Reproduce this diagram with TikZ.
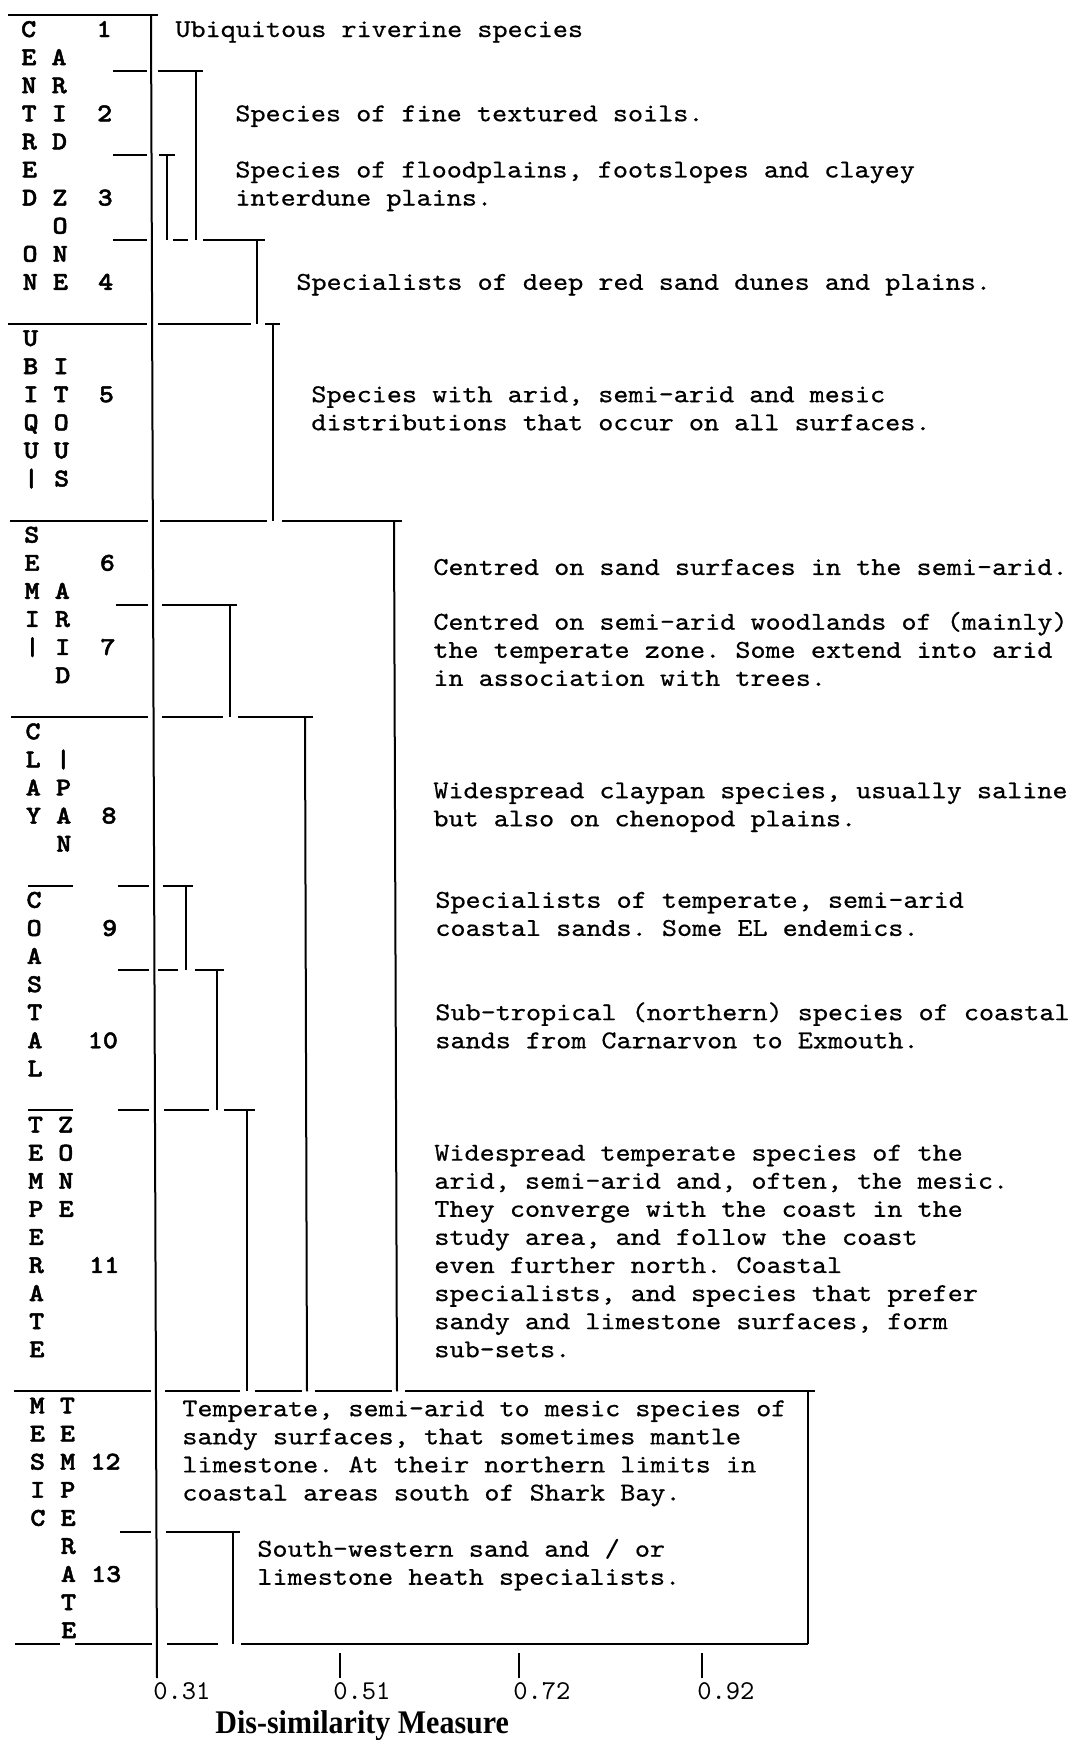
\documentclass[tikz,border=0pt]{standalone}
\usepackage{fontspec}
\usepackage{graphicx}
\newfontfamily\cour[FakeStretch=1.12,FakeBold=0.6]{lmmono10-regular.otf}
\newfontfamily\courb[FakeStretch=1.12,FakeBold=1.8]{lmmonolt10-bold.otf}
\newfontfamily\ticfont{lmmono10-regular.otf}
\newfontfamily\tserif{Liberation Serif}
\newcommand\LY[1]{43+28.09*(#1)}
\newcommand\hs[3]{\draw[ln] (#2,{\LY{#1}}) -- (#3,{\LY{#1}});}
\newcommand\vs[3]{\draw[ln] (#1,{\LY{#2}}) -- (#1,{\LY{#3}});}
\newcommand\rtx[4]{\node[rt] (#1) at (#2,{37+28.09*(#3)}) {#4};}
\newcommand\lab[2]{\node[lt] (lab#1) at ({20.5+0.0062*(31+28.09*(#1))},{37+28.09*(#1)}) {#2};}
\tikzset{
  ln/.style={line width=1pt, black},
  rt/.style={font=\cour\frenchspacing\fontsize{12.84}{14}\selectfont, anchor=base west, inner sep=0pt},
  lt/.style={font=\courb\frenchspacing\fontsize{12.84}{14}\selectfont, anchor=base west, inner sep=0pt},
  tk/.style={font=\ticfont\fontsize{13.6}{14}\selectfont, anchor=base west, inner sep=0pt},
}
\begin{document}
\begin{tikzpicture}[x=0.5pt,y=-0.5pt]
\useasboundingbox (0,0) rectangle (1073,1740);
\fill[white] (0,0) rectangle (1073,1740);
% main vertical
\draw[ln] (151,15) -- (157,1678);
% left separators
\draw[ln] (8,{\LY{-1}}) -- (158,{\LY{-1}});
\hs{1}{113}{147}
\hs{4}{113}{147}
\hs{7}{113}{147}
\hs{10}{8}{147}
\hs{17}{10}{148}
\hs{20}{116}{148}
\hs{24}{11}{148}
\hs{30}{28}{73}
\hs{30}{118}{149}
\hs{33}{118}{149}
\hs{38}{28}{73}
\hs{38}{118}{149}
\hs{48}{14}{151}
\hs{53}{120}{151}
\hs{57}{15}{60}
\hs{57}{75}{152}
% cluster 1-5
\hs{1}{158}{203}
\vs{196}{1}{7}
\hs{4}{159}{175}
\vs{167}{4}{7}
\hs{7}{173}{188}
\hs{7}{203}{265}
\vs{257}{7}{10}
\hs{10}{158}{251}
\hs{10}{265}{280}
\vs{273}{10}{17}
\hs{17}{160}{267}
\hs{17}{282}{402}
\draw[ln] (394,{\LY{17}}) -- (397,{\LY{48}});
% semi-arid
\hs{20}{162}{237}
\vs{230}{20}{24}
\hs{24}{162}{223}
\hs{24}{238}{313}
\draw[ln] (305,{\LY{24}}) -- (307,{\LY{48}});
% clay / coastal / temperate
\hs{30}{163}{193}
\vs{186}{30}{33}
\hs{33}{158}{178}
\hs{33}{195}{224}
\vs{217}{33}{38}
\hs{38}{164}{209}
\hs{38}{224}{255}
\vs{247}{38}{48}
% row 48 line
\hs{48}{165}{240}
\hs{48}{255}{302}
\hs{48}{315}{392}
\hs{48}{405}{815}
% right box
\vs{808}{48}{57}
% mesic
\hs{53}{166}{240}
\vs{233}{53}{57}
\hs{57}{167}{218}
\hs{57}{241}{808}
% axis ticks
\draw[ln] (340,1653) -- (340,1678);
\draw[ln] (519,1653) -- (519,1678);
\draw[ln] (702,1653) -- (702,1678);
\node[tk] (a1) at (153,1699) {0.31};
\node[tk] (a2) at (333,1699) {0.51};
\node[tk] (a3) at (513,1699) {0.72};
\node[tk] (a4) at (697,1699) {0.92};
\node[anchor=base west, inner sep=0pt, font=\tserif\bfseries\fontsize{15}{16}\selectfont] (title) at (215,1733) {\scalebox{1}[1.1]{Dis-similarity Measure}};
% left labels
\lab{0}{C~~~~1}
\lab{1}{E~A}
\lab{2}{N~R}
\lab{3}{T~I~~2}
\lab{4}{R~D}
\lab{5}{E}
\lab{6}{D~Z~~3}
\lab{7}{~~O}
\lab{8}{O~N}
\lab{9}{N~E~~4}
\lab{11}{U}
\lab{12}{B~I}
\lab{13}{I~T~~5}
\lab{14}{Q~O}
\lab{15}{U~U}
\lab{16}{|~S}
\lab{18}{S}
\lab{19}{E~~~~6}
\lab{20}{M~A}
\lab{21}{I~R}
\lab{22}{|~I~~7}
\lab{23}{~~D}
\lab{25}{C}
\lab{26}{L~|}
\lab{27}{A~P}
\lab{28}{Y~A~~8}
\lab{29}{~~N}
\lab{31}{C}
\lab{32}{O~~~~9}
\lab{33}{A}
\lab{34}{S}
\lab{35}{T}
\lab{36}{A~~~10}
\lab{37}{L}
\lab{39}{T~Z}
\lab{40}{E~O}
\lab{41}{M~N}
\lab{42}{P~E}
\lab{43}{E}
\lab{44}{R~~~11}
\lab{45}{A}
\lab{46}{T}
\lab{47}{E}
\lab{49}{M~T}
\lab{50}{E~E}
\lab{51}{S~M~12}
\lab{52}{I~P}
\lab{53}{C~E}
\lab{54}{~~R}
\lab{55}{~~A~13}
\lab{56}{~~T}
\lab{57}{~~E}
% right texts
\rtx{t1}{175}{0}{Ubiquitous riverine species}
\rtx{t2}{235}{3}{Species of fine textured soils.}
\rtx{t3a}{235}{5}{Species of floodplains, footslopes and clayey}
\rtx{t3b}{235}{6}{interdune plains.}
\rtx{t4}{296}{9}{Specialists of deep red sand dunes and plains.}
\rtx{t5a}{311}{13}{Species with arid, semi-arid and mesic}
\rtx{t5b}{311}{14}{distributions that occur on all surfaces.}
\rtx{t6}{433}{19.15}{Centred on sand surfaces in the semi-arid.}
\rtx{t7a}{433}{21.1}{Centred on semi-arid woodlands of (mainly)}
\rtx{t7b}{433}{22.1}{the temperate zone. Some extend into arid}
\rtx{t7c}{433}{23.1}{in association with trees.}
\rtx{t8a}{433}{27.1}{Widespread claypan species, usually saline}
\rtx{t8b}{433}{28.1}{but also on chenopod plains.}
\rtx{t9a}{435}{31}{Specialists of temperate, semi-arid}
\rtx{t9b}{435}{32}{coastal sands. Some EL endemics.}
\rtx{t10a}{435}{35}{Sub-tropical (northern) species of coastal}
\rtx{t10b}{435}{36}{sands from Carnarvon to Exmouth.}
\rtx{t11a}{434}{40}{Widespread temperate species of the}
\rtx{t11b}{434}{41}{arid, semi-arid and, often, the mesic.}
\rtx{t11c}{434}{42}{They converge with the coast in the}
\rtx{t11d}{434}{43}{study area, and follow the coast}
\rtx{t11e}{434}{44}{even further north. Coastal}
\rtx{t11f}{434}{45}{specialists, and species that prefer}
\rtx{t11g}{434}{46}{sandy and limestone surfaces, form}
\rtx{t11h}{434}{47}{sub-sets.}
\rtx{t12a}{182}{49.1}{Temperate, semi-arid to mesic species of}
\rtx{t12b}{182}{50.1}{sandy surfaces, that sometimes mantle}
\rtx{t12c}{182}{51.1}{limestone. At their northern limits in}
\rtx{t12d}{182}{52.1}{coastal areas south of Shark Bay.}
\rtx{t13a}{257}{54.1}{South-western sand and / or}
\rtx{t13b}{257}{55.1}{limestone heath specialists.}
\end{tikzpicture}
\end{document}
